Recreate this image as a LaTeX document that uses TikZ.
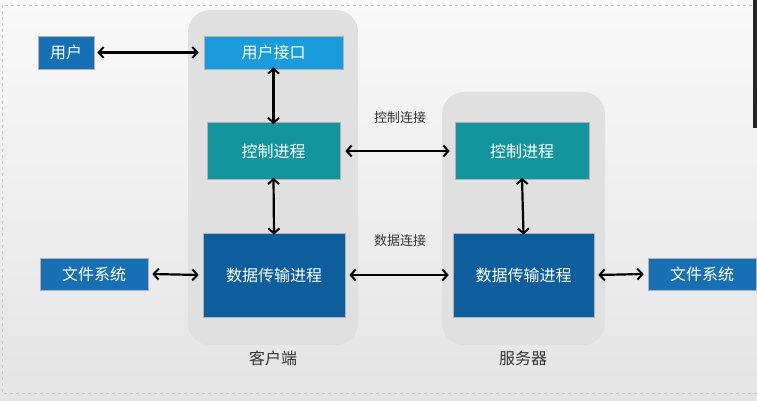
\documentclass[tikz,border=0pt]{standalone}
\usepackage{fontspec}
\setmainfont{Noto Sans CJK SC}
\usetikzlibrary{arrows.meta}
\definecolor{bgtop}{HTML}{F9F9F9}
\definecolor{bgbot}{HTML}{E4E4E4}
\definecolor{panel}{HTML}{E0E0E0}
\definecolor{userblue}{HTML}{1570B5}
\definecolor{lightblue}{HTML}{1A9BDC}
\definecolor{tealc}{HTML}{14959E}
\definecolor{darkblue}{HTML}{0E5E9E}
\definecolor{fsblue}{HTML}{1670B3}
\definecolor{txtgray}{HTML}{333333}
\tikzset{
  box/.style={draw=white!70!black, line width=0.6pt, text=white, font=\fontsize{16}{18}\selectfont, inner sep=0pt, minimum width=#1},
  panelbox/.style={fill=panel, draw=none, rounded corners=22pt},
  conn/.style={line width=2.2pt, black, {Straight Barb[length=5pt,width=11pt,line width=2pt]}-{Straight Barb[length=5pt,width=11pt,line width=2pt]}},
  lbl/.style={text=txtgray, inner sep=0pt},
}
\begin{document}
\begin{tikzpicture}[x=1pt,y=-1pt]
\shade[top color=bgtop, bottom color=bgbot] (0,0) rectangle (757,401);
\useasboundingbox (0,0) rectangle (757,401);
\draw[gray!45, dashed, line width=0.6pt] (2,5) rectangle (757,393);
\fill[black!85] (753,0) rectangle (757,128);
% panels
\fill[panelbox] (188,10) rectangle (358,345);
\fill[panelbox] (442,92) rectangle (605,345);
% nodes
\node[box=56pt, minimum height=33pt, fill=userblue] (user) at (66,52.5) {用户};
\node[box=139pt, minimum height=33pt, fill=lightblue] (ui) at (273.5,52.5) {用户接口};
\node[box=133pt, minimum height=57pt, fill=tealc] (cctl) at (273.5,151) {控制进程};
\node[box=142pt, minimum height=84pt, fill=darkblue] (cdata) at (274,275) {数据传输进程};
\node[box=108pt, minimum height=32pt, fill=fsblue] (cfs) at (94,274) {文件系统};
\node[box=134pt, minimum height=57pt, fill=tealc] (sctl) at (522,151) {控制进程};
\node[box=141pt, minimum height=84pt, fill=darkblue] (sdata) at (523.5,275) {数据传输进程};
\node[box=108pt, minimum height=32pt, fill=fsblue] (sfs) at (702,274) {文件系统};
% labels
\node[lbl, font=\fontsize{16}{18}\selectfont] (clabel) at (273,358) {客户端};
\node[lbl, font=\fontsize{16}{18}\selectfont] (slabel) at (523,358) {服务器};
\node[lbl, font=\fontsize{13}{15}\selectfont] (ctllabel) at (400,118) {控制连接};
\node[lbl, font=\fontsize{13}{15}\selectfont] (datalabel) at (400,241) {数据连接};
% connectors
\draw[conn] ([xshift=3pt]user.east) -- ([xshift=-5pt]ui.west);
\draw[conn] ([yshift=2pt]ui.south) -- ([yshift=-2pt]cctl.north);
\draw[conn] ([yshift=2pt]cctl.south) -- ([yshift=-2pt]cdata.north);
\draw[conn] ([yshift=2pt]sctl.south) -- ([yshift=-2pt]sdata.north);
\draw[conn] ([xshift=5pt]cctl.east) -- ([xshift=-5pt]sctl.west);
\draw[conn] ([xshift=4pt]cdata.east) -- ([xshift=-4pt]sdata.west);
\draw[conn] ([xshift=4pt]cfs.east) -- ([xshift=-4pt]cdata.west);
\draw[conn] ([xshift=4pt]sdata.east) -- ([xshift=-4pt]sfs.west);
\end{tikzpicture}
\end{document}
